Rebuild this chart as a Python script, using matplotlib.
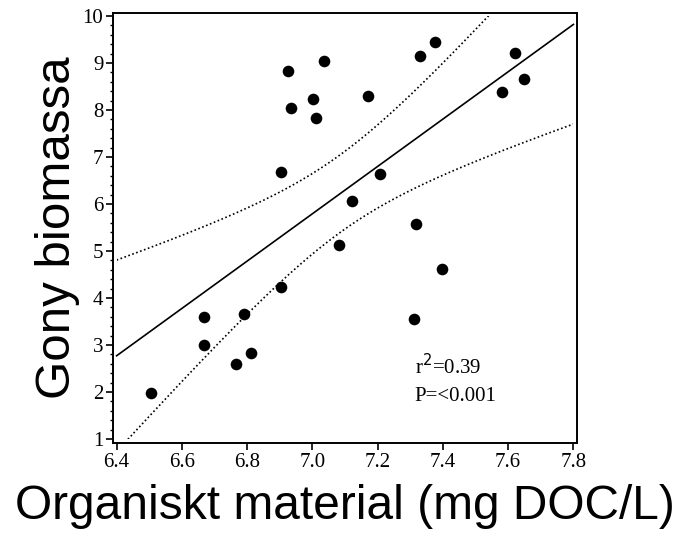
import numpy as np
import matplotlib
matplotlib.use("Agg")
import matplotlib.pyplot as plt
from matplotlib.patches import Rectangle
from matplotlib.ticker import MultipleLocator

# DOC (mg/L) and Gony biomass per sample
doc = [6.925, 7.037, 6.934, 7.001, 7.011, 6.905, 7.377, 7.331, 7.169,
       7.620, 7.649, 7.580, 7.206, 7.120, 7.318, 7.081, 7.396, 7.313,
       6.504, 6.669, 6.669, 6.789, 6.766, 6.811, 6.905]
biomassa = [8.84, 9.05, 8.05, 8.23, 7.82, 6.69, 9.45, 9.16, 8.29,
            9.21, 8.66, 8.39, 6.64, 6.07, 5.57, 5.13, 4.61, 3.55,
            1.98, 3.60, 3.00, 3.66, 2.60, 2.82, 4.24]

x_ticks = [6.4, 6.6, 6.8, 7.0, 7.2, 7.4, 7.6, 7.8]
x_labels = ["6.4", "6.6", "6.8", "7.0", "7.2", "7.4", "7.6", "7.8"]
y_ticks = [1, 2, 3, 4, 5, 6, 7, 8, 9, 10]

r2_text = "0.39"
p_text = "<0.001"
t_crit = 2.069  # t(0.975, df=23)

x = np.array(doc)
y = np.array(biomassa)
n = len(x)
slope, intercept = np.polyfit(x, y, 1)
resid = y - (intercept + slope * x)
s = np.sqrt(np.sum(resid ** 2) / (n - 2))
sxx = np.sum((x - x.mean()) ** 2)

xg = np.linspace(6.4, 7.8, 400)
yfit = intercept + slope * xg
half = t_crit * s * np.sqrt(1.0 / n + (xg - x.mean()) ** 2 / sxx)

fig = plt.figure(figsize=(6.92, 5.38), dpi=100)
ax = fig.add_axes([0.1633, 0.1766, 0.6705, 0.7992])

ax.scatter(x, y, s=70, color="black", zorder=3, linewidths=0)
ax.plot(xg, yfit, color="black", lw=1.2)
clip = Rectangle((6.4, 1), 1.4, 9, transform=ax.transData, fill=False)
for band in (yfit + half, yfit - half):
    ln, = ax.plot(xg, band, color="black", lw=1.2, linestyle=(0, (1, 1.5)))
    ln.set_clip_path(clip)

ax.set_xlim(6.389, 7.811)
ax.set_ylim(0.915, 10.064)
ax.set_xticks(x_ticks)
ax.set_xticklabels(x_labels)
ax.set_yticks(y_ticks)
ax.yaxis.set_minor_locator(MultipleLocator(0.2))

for sp in ax.spines.values():
    sp.set_linewidth(1.4)

serif = ["Liberation Serif", "DejaVu Serif"]
ax.tick_params(axis="both", which="major", direction="out", length=5,
               width=1.2, labelsize=15, pad=2)
ax.tick_params(axis="y", which="minor", direction="out", length=2.5, width=1.0)
for lab in ax.get_xticklabels() + ax.get_yticklabels():
    lab.set_fontfamily(serif)

ax.text(7.314, 2.53, r"r$^2$=" + r2_text, fontsize=15, family=serif,
        va="center", ha="left")
ax.text(7.314, 1.90, "P=" + p_text, fontsize=15, family=serif,
        va="center", ha="left")

sans = ["Liberation Sans", "DejaVu Sans"]
ax.set_xlabel("Organiskt material (mg DOC/L)", fontsize=34.5, family=sans,
              labelpad=9)
ax.set_ylabel("Gony biomassa", fontsize=35.5, family=sans, labelpad=2)

fig.savefig("out.png", dpi=100)
